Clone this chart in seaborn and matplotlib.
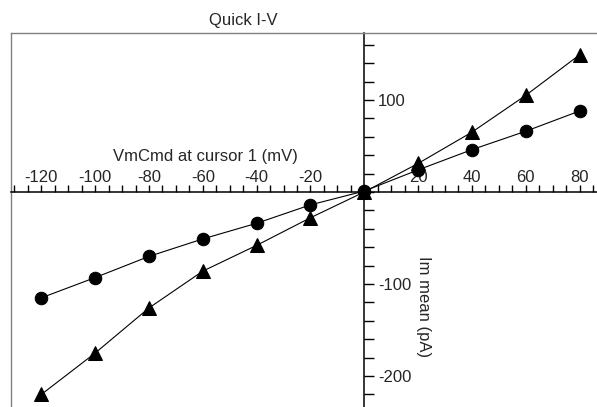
import numpy as np
import pandas as pd
import matplotlib
matplotlib.use('Agg')
import matplotlib.pyplot as plt
from matplotlib.ticker import MultipleLocator, FuncFormatter
import seaborn as sns

# I-V data (mV, pA)
vm_cmd = [-120, -100, -80, -60, -40, -20, 0, 20, 40, 60, 80]
im_circle = [-115, -93, -70, -51, -34, -14, 1, 24, 46, 66, 88]
im_triangle = [-220, -175, -126, -86, -58, -28, 0, 31, 65, 105, 149]

x_ticks = [-120, -100, -80, -60, -40, -20, 20, 40, 60, 80]
y_ticks = [-200, -100, 100]

sns.set_style('white')
plt.rcParams['font.family'] = ['Liberation Sans', 'DejaVu Sans']
plt.rcParams['font.size'] = 12
plt.rcParams['axes.unicode_minus'] = False

df_c = pd.DataFrame({'vm': vm_cmd, 'im': im_circle})
df_t = pd.DataFrame({'vm': vm_cmd, 'im': im_triangle})

fig = plt.figure(figsize=(5.97, 4.07), dpi=100)
ax = fig.add_axes([11 / 597, 0, 1 - 11 / 597, 1 - 33 / 407])

sns.lineplot(data=df_c, x='vm', y='im', ax=ax, color='black', linewidth=0.8,
             marker='o', markersize=9, markeredgecolor='black', legend=False)
sns.lineplot(data=df_t, x='vm', y='im', ax=ax, color='black', linewidth=0.8,
             marker='^', markersize=10, markeredgecolor='black', legend=False)

ax.set_xlim(-131.3, 86.5)
ax.set_ylim(-233.7, 172.8)

# zero axes: top spine and right spine moved to the origin
ax.spines['top'].set_position(('data', 0))
ax.spines['right'].set_position(('data', 0))
for s in ['top', 'right']:
    ax.spines[s].set_color('black')
    ax.spines[s].set_linewidth(1.1)
# gray frame: left stays, bottom moved up to the top edge
ax.spines['bottom'].set_position(('axes', 1))
for s in ['left', 'bottom']:
    ax.spines[s].set_color('#808080')
    ax.spines[s].set_linewidth(1.0)

ax.xaxis.tick_top()
ax.yaxis.tick_right()
ax.xaxis.set_major_locator(plt.FixedLocator(x_ticks))
ax.xaxis.set_minor_locator(MultipleLocator(5))
ax.yaxis.set_major_locator(plt.FixedLocator(y_ticks))
ax.yaxis.set_minor_locator(MultipleLocator(20))
ax.xaxis.set_major_formatter(FuncFormatter(lambda v, p: '%d' % v))
ax.yaxis.set_major_formatter(FuncFormatter(lambda v, p: '%d' % v))
ax.tick_params(axis='x', which='both', direction='out', length=5, width=1,
               color='black', pad=0, labelsize=12)
ax.tick_params(axis='y', which='both', direction='out', length=7, width=1,
               color='black', pad=3, labelsize=12)

ax.set_xlabel('VmCmd at cursor 1 (mV)', fontsize=12)
ax.xaxis.set_label_position('top')
ax.xaxis.label.set_va('center')
ax.xaxis.set_label_coords((205 - 11) / 586, (407 - 157) / 374)
ax.set_ylabel('Im mean (pA)', fontsize=12, rotation=270)
ax.yaxis.set_label_position('right')
ax.yaxis.label.set_ha('center')
ax.yaxis.label.set_va('center')
ax.yaxis.set_label_coords((423 - 11) / 586, (407 - 307) / 374)

fig.text(243 / 597, 1 - 21 / 407, 'Quick I-V', ha='center', va='center', fontsize=12)

fig.savefig('out.png', dpi=100)
